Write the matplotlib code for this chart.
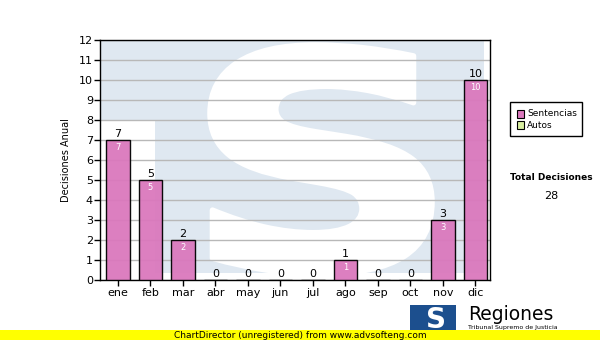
import matplotlib
matplotlib.use("Agg")
import matplotlib.pyplot as plt
from matplotlib.textpath import TextPath
from matplotlib.font_manager import FontProperties
from matplotlib.patches import PathPatch, Rectangle
from matplotlib.transforms import Affine2D
import numpy as np

months = ["ene", "feb", "mar", "abr", "may", "jun", "jul", "ago", "sep", "oct", "nov", "dic"]
sentencias = [7, 5, 2, 0, 0, 0, 0, 1, 0, 0, 3, 10]
autos = [0, 0, 0, 0, 0, 0, 0, 0, 0, 0, 0, 0]
total_decisiones = 28
y_ticks = list(range(0, 13))

plt.rcParams['font.family'] = ['DejaVu Sans']

W, H = 600, 340
fig = plt.figure(figsize=(6, 3.4), dpi=100)
fig.patch.set_facecolor("white")

def fx(px):
    return px / W

def fy(py):
    return 1 - py / H

ax = fig.add_axes([fx(100), fy(280), fx(490) - fx(100), fy(40) - fy(280)])
ax.set_facecolor("white")

# watermark logo
wm_col = "#dfe8f1"
ax.add_patch(Rectangle((0.0, 0.03), 0.985, 0.97, transform=ax.transAxes,
                       facecolor=wm_col, edgecolor="none", zorder=0))
ax.add_patch(Rectangle((0.0, 0.0), 0.14, 0.665, transform=ax.transAxes,
                       facecolor="white", edgecolor="none", zorder=0.1))
tp = TextPath((0, 0), "S", size=1, prop=FontProperties(family="DejaVu Sans", weight="bold"))
ext = tp.get_extents()
x0, x1 = (210 - 100) / 390, (432 - 100) / 390
y0, y1 = (280 - 274) / 240, (280 - 45) / 240
tr = Affine2D().translate(-ext.x0, -ext.y0).scale((x1 - x0) / ext.width, (y1 - y0) / ext.height).translate(x0, y0)
ax.add_patch(PathPatch(tr.transform_path(tp), transform=ax.transAxes,
                       facecolor="white", edgecolor="white", linewidth=4, joinstyle="round", zorder=0.2))

x = np.arange(len(months))
bar_col = "#da78bd"
ax.bar(x, sentencias, width=0.72, color=bar_col, edgecolor="black", linewidth=1.0, zorder=3, alpha=0.95)

for xi, v in zip(x, sentencias):
    ax.text(xi, v + 0.05, str(v), ha="center", va="bottom", fontsize=8, color="black", zorder=5)
    if v > 0:
        ax.text(xi, v - 0.15, str(v), ha="center", va="top", fontsize=6, color="white", zorder=5)

ax.set_xlim(-0.55, 11.45)
ax.set_ylim(0, 12)
ax.set_yticks(y_ticks)
ax.set_xticks(x)
ax.set_xticklabels(months)
ax.tick_params(axis="both", labelsize=8, length=4, width=1, color="black", direction="out")
ax.tick_params(axis="x", pad=2)
ax.tick_params(axis="y", pad=1)
ax.yaxis.grid(True, color="#b8b8b8", linewidth=1, zorder=1)
ax.set_axisbelow(True)
for s in ax.spines.values():
    s.set_color("black")
    s.set_linewidth(1)
ax.set_ylabel("Decisiones Anual", fontsize=7, labelpad=6)

# legend box
fig.patches.append(Rectangle((fx(510), fy(136)), fx(582) - fx(510), fy(102) - fy(136),
                             transform=fig.transFigure, facecolor="white", edgecolor="black", linewidth=1))
for i, (lab, col) in enumerate([("Sentencias", bar_col), ("Autos", "#d8efa0")]):
    yy = 114 + i * 11
    fig.patches.append(Rectangle((fx(517), fy(yy + 3.5)), fx(7), 7 / H,
                                 transform=fig.transFigure, facecolor=col, edgecolor="black", linewidth=0.8))
    fig.text(fx(527), fy(yy), lab, fontsize=6.5, va="center", ha="left")

fig.text(fx(551), fy(178), "Total Decisiones", fontsize=6.5, fontweight="bold", ha="center", va="center")
fig.text(fx(551), fy(196), str(total_decisiones), fontsize=8, ha="center", va="center")

# bottom logo
fig.patches.append(Rectangle((fx(410), fy(338)), fx(46), 33 / H, transform=fig.transFigure,
                             facecolor="#1c4f8e", edgecolor="none"))
fig.text(fx(436), fy(320), "S", fontsize=20, fontweight="bold", color="white", ha="center", va="center")
fig.text(fx(468), fy(320), "Regiones", fontsize=13.5, ha="left", va="baseline", color="black")
fig.text(fx(468), fy(330.5), "Tribunal Supremo de Justicia", fontsize=4.5, ha="left", va="bottom", color="black")

# yellow band
fig.patches.append(Rectangle((0, 0), 1, 10 / H, transform=fig.transFigure,
                             facecolor="#ffff00", edgecolor="none", zorder=10))
fig.text(fx(300), fy(335), "ChartDirector (unregistered) from www.advsofteng.com", fontsize=6.5,
         ha="center", va="center", zorder=11)

fig.savefig("out.png", dpi=100)
